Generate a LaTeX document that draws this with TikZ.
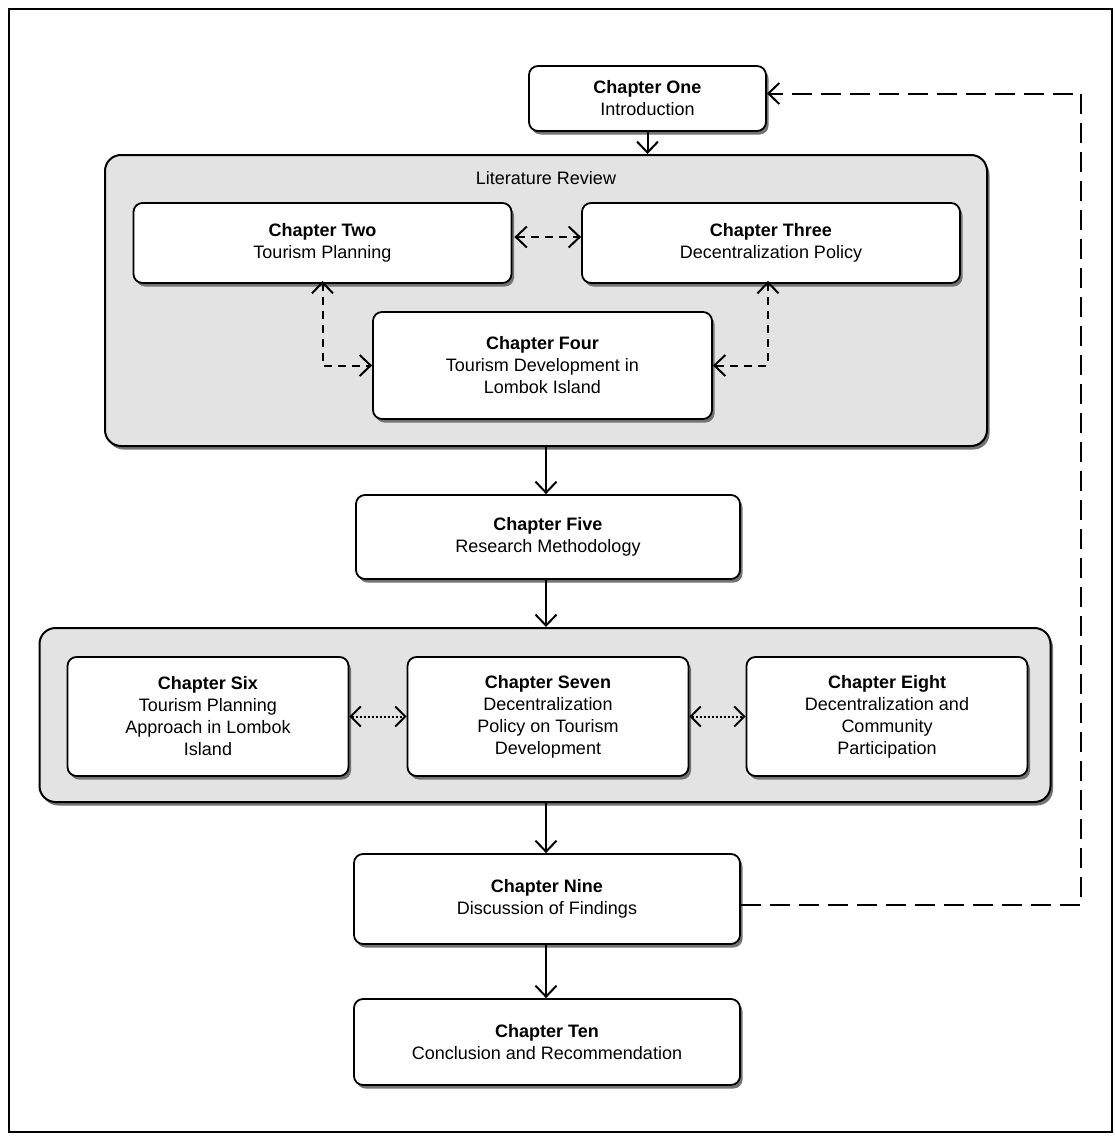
\documentclass[tikz,border=0pt]{standalone}
\usepackage{fontspec}
\setmainfont{Liberation Sans}
\usetikzlibrary{arrows.meta,shadows,calc}
\begin{document}
\begin{tikzpicture}[x=1pt,y=-1pt,
  every node/.style={font=\fontsize{18}{22}\selectfont},
  box/.style={draw=black,line width=1.8pt,fill=white,rounded corners=9pt,align=center,inner sep=0pt,
     drop shadow={shadow xshift=2.5pt,shadow yshift=-3.5pt,fill=black!55,opacity=1}},
  grp/.style={draw=black,line width=2pt,fill=black!11,rounded corners=16pt,inner sep=0pt,
     drop shadow={shadow xshift=2.5pt,shadow yshift=-3.5pt,fill=black!55,opacity=1}},
  arr/.style={line width=2pt,-{Straight Barb[length=11pt,width=21pt]}},
  darr/.style={line width=2pt,dash pattern=on 8pt off 6pt,{Straight Barb[length=11pt,width=21pt]}-{Straight Barb[length=11pt,width=21pt]}},
  dotarr/.style={line width=2pt,dash pattern=on 2pt off 2pt,{Straight Barb[length=10pt,width=20pt,line width=2pt]}-{Straight Barb[length=10pt,width=20pt,line width=2pt]}},
  fbarr/.style={line width=2pt,dash pattern=on 20pt off 9pt,-{Straight Barb[length=11pt,width=21pt]}}
]
\useasboundingbox (0,0) rectangle (1114,1140);
\draw[line width=2pt] (9,9) rectangle (1112,1132);

% groups
\node[grp,minimum width=882pt,minimum height=291pt] (g1) at (546,300.5) {};
\node[anchor=north] (lr) at (546,168) {Literature Review};
\node[grp,minimum width=1011pt,minimum height=174pt] (g2) at (545,715) {};

% chapters
\node[box,minimum width=237pt,minimum height=65pt] (c1) at (647.5,98.5) {\textbf{Chapter One}\\Introduction};
\node[box,minimum width=378pt,minimum height=80pt] (c2) at (322.5,243) {\textbf{Chapter Two}\\Tourism Planning};
\node[box,minimum width=378pt,minimum height=80pt] (c3) at (771,243) {\textbf{Chapter Three}\\Decentralization Policy};
\node[box,minimum width=339pt,minimum height=107pt] (c4) at (542.5,365.5) {\textbf{Chapter Four}\\Tourism Development in\\Lombok Island};
\node[box,minimum width=384pt,minimum height=84pt] (c5) at (548,537) {\textbf{Chapter Five}\\Research Methodology};
\node[box,minimum width=281pt,minimum height=119pt] (c6) at (208,716.5) {\textbf{Chapter Six}\\Tourism Planning\\Approach in Lombok\\Island};
\node[box,minimum width=281pt,minimum height=119pt] (c7) at (548,716.5) {\textbf{Chapter Seven}\\Decentralization\\Policy on Tourism\\Development};
\node[box,minimum width=281pt,minimum height=119pt] (c8) at (887,716.5) {\textbf{Chapter Eight}\\Decentralization and\\Community\\Participation};
\node[box,minimum width=386pt,minimum height=90pt] (c9) at (547,899) {\textbf{Chapter Nine}\\Discussion of Findings};
\node[box,minimum width=386pt,minimum height=86pt] (c10) at (547,1042) {\textbf{Chapter Ten}\\Conclusion and Recommendation};

% main flow
\draw[arr] (c1.south) -- (c1.south |- g1.north);
\draw[arr] (g1.south) -- (g1.south |- c5.north);
\draw[arr] (g1.south |- c5.south) -- (g1.south |- g2.north);
\draw[arr] (g1.south |- g2.south) -- (g1.south |- c9.north);
\draw[arr] (g1.south |- c9.south) -- (g1.south |- c10.north);

% literature review relations
\draw[darr] (c2.east) ++(2pt,6pt) coordinate (a) -- (c3.west |- a);
\draw[darr] (c2.south) ++(0,3pt) |- (c4.west);
\draw[darr] (c3.south) ++(-3pt,3pt) |- (c4.east);

% results chapters
\draw[dotarr] (c6.east) -- (c7.west);
\draw[dotarr] (c7.east) -- (c8.west);

% feedback
\coordinate (fb) at (1081,0);
\coordinate (e) at ($(c1.east)+(0,-5)$);
\coordinate (s) at ($(c9.east)+(0,6)$);
\draw[fbarr] (s) -- (s -| fb) -- (fb |- e) -- (e);
\end{tikzpicture}
\end{document}
